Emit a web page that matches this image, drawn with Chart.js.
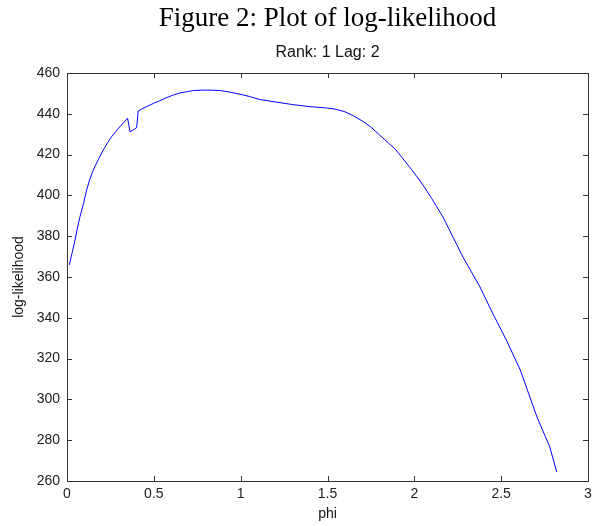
<!DOCTYPE html>
<html>
<head>
<meta charset="utf-8">
<script src="https://cdn.jsdelivr.net/npm/chart.js@4/dist/chart.umd.min.js"></script>
<style>
html,body{margin:0;padding:0;background:#fff;}
#wrap{position:relative;width:592px;height:526px;}
</style>
</head>
<body>
<div id="wrap"><canvas id="c" width="592" height="526"></canvas></div>
<script>
const figureTitle = "Figure 2: Plot of log-likelihood";
const plotTitle = "Rank: 1 Lag: 2";
const xLabel = "phi";
const yLabel = "log-likelihood";
const xTicks = [0, 0.5, 1, 1.5, 2, 2.5, 3];
const yTicks = [260, 280, 300, 320, 340, 360, 380, 400, 420, 440, 460];
const phi = [0.013,0.03,0.046,0.06,0.075,0.095,0.113,0.13,0.151,0.18,0.209,0.235,0.257,0.28,0.305,0.33,0.349,0.363,0.38,0.401,0.41,0.43,0.458,0.5,0.535,0.57,0.612,0.65,0.689,0.727,0.78,0.83,0.88,0.94,0.996,1.05,1.11,1.2,1.3,1.4,1.5,1.55,1.6,1.65,1.7,1.75,1.8,1.89,1.986,2.05,2.1,2.165,2.22,2.28,2.378,2.45,2.53,2.61,2.706,2.78,2.82];
const logLik = [365.9,372,378,384,389.6,396,402.6,407.5,412.4,417.5,422.3,426,428.8,431.2,433.7,436,437.8,431.2,432,433.2,441.4,442.3,443.5,445.2,446.4,447.8,449.2,450.2,450.8,451.4,451.6,451.6,451.4,450.6,449.6,448.5,447,445.8,444.5,443.5,442.8,442.2,441,439,436.5,433.5,429.6,422.7,412.5,405.1,398.5,389.4,380,369.8,355.1,342.4,329.1,314.4,291.4,276.7,264.4];

const axisColor = '#333333';
const tickFont = {family: "'Liberation Sans', Arial, sans-serif", size: 14};

const frame = {
  id: 'frame',
  afterDraw(chart) {
    const {ctx, chartArea: a, scales} = chart;
    ctx.save();
    ctx.strokeStyle = axisColor;
    ctx.lineWidth = 1;
    ctx.strokeRect(Math.round(a.left)+0.5, Math.round(a.top)+0.5, Math.round(a.right-a.left), Math.round(a.bottom-a.top));
    const L = 5;
    ctx.beginPath();
    xTicks.forEach(v => {
      const x = Math.round(scales.x.getPixelForValue(v))+0.5;
      ctx.moveTo(x, a.bottom); ctx.lineTo(x, a.bottom - L);
      ctx.moveTo(x, a.top); ctx.lineTo(x, a.top + L);
    });
    yTicks.forEach(v => {
      const y = Math.round(scales.y.getPixelForValue(v))+0.5;
      ctx.moveTo(a.left, y); ctx.lineTo(a.left + L, y);
      ctx.moveTo(a.right, y); ctx.lineTo(a.right - L, y);
    });
    ctx.stroke();
    ctx.restore();
  }
};

new Chart(document.getElementById('c'), {
  type: 'line',
  data: {
    datasets: [{
      data: phi.map((p, i) => ({x: p, y: logLik[i]})),
      borderColor: 'rgb(0,0,255)',
      borderWidth: 1,
      pointRadius: 0,
      tension: 0,
      fill: false
    }]
  },
  options: {
    responsive: false,
    animation: false,
    layout: {padding: {left: 0, right: 4, top: 0, bottom: 0}},
    plugins: {
      legend: {display: false},
      tooltip: {enabled: false},
      title: {
        display: true, text: figureTitle, fullSize: false, color: '#000',
        font: {family: "'Liberation Serif', 'DejaVu Serif', serif", size: 27, weight: 'normal'},
        padding: {top: 2.8, bottom: 0}
      },
      subtitle: {
        display: true, text: plotTitle, fullSize: false, color: '#111',
        font: {family: "'Liberation Sans', Arial, sans-serif", size: 16},
        padding: {top: 7.7, bottom: 10.9}
      }
    },
    scales: {
      x: {
        type: 'linear', min: 0, max: 3,
        afterBuildTicks: s => { s.ticks = xTicks.map(v => ({value: v})); },
        afterFit: s => { s.height = 45; s.paddingLeft = 0; s.paddingRight = 0; },
        grid: {display: false, drawTicks: false},
        border: {display: false},
        ticks: {color: '#222', font: tickFont, padding: 5, maxRotation: 0,
          callback: v => String(v)},
        title: {display: true, text: xLabel, color: '#111', font: tickFont, padding: {top: 0, bottom: 3}}
      },
      y: {
        type: 'linear', min: 260, max: 460,
        afterBuildTicks: s => { s.ticks = yTicks.map(v => ({value: v})); },
        afterFit: s => { s.width = 67; s.paddingTop = 0; s.paddingBottom = 0; },
        grid: {display: false, drawTicks: false},
        border: {display: false},
        ticks: {color: '#222', font: tickFont, padding: 7, callback: v => String(v)},
        title: {display: true, text: yLabel, color: '#111', font: tickFont, padding: {top: 11, bottom: 6}}
      }
    }
  },
  plugins: [frame]
});
</script>
</body>
</html>
